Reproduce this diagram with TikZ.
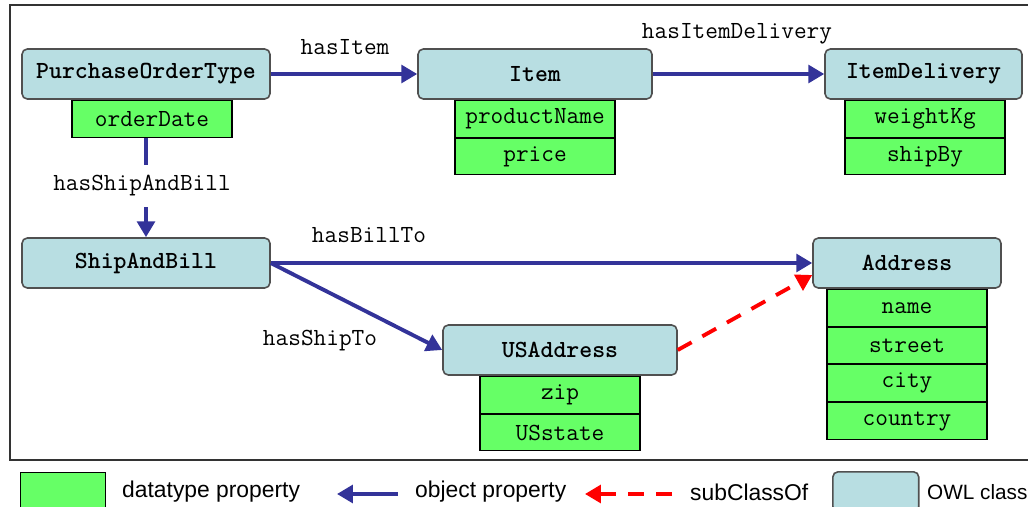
\documentclass[tikz,border=0pt]{standalone}
\usepackage{fontspec}
\setsansfont{Liberation Sans}
\usetikzlibrary{arrows.meta,positioning}
\definecolor{owlblue}{RGB}{184,222,226}
\definecolor{dtgreen}{RGB}{102,255,102}
\definecolor{objblue}{RGB}{51,51,153}
\definecolor{boxgray}{RGB}{80,80,80}
\begin{document}
\begin{tikzpicture}[x=0.02cm,y=-0.02cm,
	every node/.style={font=\fontsize{14}{16}\selectfont\ttfamily},
	owlclass/.style={draw=boxgray,line width=0.9pt,fill=owlblue,rounded corners=3pt,
		minimum height=1cm,inner sep=0pt,font=\fontsize{14}{16}\selectfont\ttfamily\bfseries},
	dtprop/.style={draw=black,line width=0.6pt,fill=dtgreen,minimum width=3.2cm,
		minimum height=0.735cm,inner sep=0pt},
	objprop/.style={draw=objblue,line width=2.2pt,-{Triangle[length=9pt,width=10pt]}},
	subcls/.style={draw=red,line width=2.2pt,dash pattern=on 9pt off 7pt,
		-{Triangle[length=9pt,width=10pt]}},
	legend/.style={font=\fontsize{13}{15}\selectfont\sffamily,anchor=west}]
	\useasboundingbox (0,0) rectangle (1028,507);
	\draw[line width=0.6pt,black!80] (10,5) rectangle (1040,460);
	% classes
	\node[owlclass,minimum width=4.96cm] (pot) at (146,74) {PurchaseOrderType};
	\node[owlclass,minimum width=4.68cm] (item) at (535,74) {Item};
	\node[owlclass,minimum width=3.94cm] (delivery) at (923.5,74) {ItemDelivery};
	\node[owlclass,minimum width=4.96cm] (shipbill) at (146,263) {ShipAndBill};
	\node[owlclass,minimum width=3.76cm] (address) at (907,263) {Address};
	\node[owlclass,minimum width=4.68cm] (usaddr) at (560,350) {USAddress};
	% datatype properties
	\node[dtprop,below=0pt of pot,xshift=0.12cm] (orderdate) {orderDate};
	\node[dtprop,below=0pt of item] (prodname) {productName};
	\node[dtprop,below=0pt of prodname] (price) {price};
	\node[dtprop,below=0pt of delivery,xshift=0.03cm] (weight) {weightKg};
	\node[dtprop,below=0pt of weight] (shipby) {shipBy};
	\node[dtprop,below=0pt of address] (name) {name};
	\node[dtprop,below=0pt of name] (street) {street};
	\node[dtprop,below=0pt of street] (city) {city};
	\node[dtprop,below=0pt of city] (country) {country};
	\node[dtprop,below=0pt of usaddr] (zip) {zip};
	\node[dtprop,below=0pt of zip] (usstate) {USstate};
	% object properties
	\draw[objprop] (pot) -- (item);
	\draw[objprop] (item) -- (delivery);
	\draw[objprop] (orderdate.south -| shipbill.north) -- (shipbill.north);
	\draw[objprop] (shipbill) -- (address);
	\draw[objprop] (shipbill.east) -- (usaddr.west);
	\draw[subcls] (usaddr.east) -- ([yshift=-0.24cm]address.west);
	\node (lbitem) at (345,47) {hasItem};
	\node (lbdelivery) at (737,34) {hasItemDelivery};
	\node[fill=white,inner ysep=6pt] (lbshipbill) at (142,186) {hasShipAndBill};
	\node (lbbill) at (369,235) {hasBillTo};
	\node (lbship) at (320,341) {hasShipTo};
	% legend
	\node[draw=black,line width=0.6pt,fill=dtgreen,minimum width=1.7cm,minimum height=0.8cm,
		anchor=north west,inner sep=0pt] (lgdt) at (20,472) {};
	\node[legend] (lgdttext) at (116,492) {datatype property};
	\coordinate (lgobjA) at (398,494);
	\coordinate (lgobjB) at (337,494);
	\draw[objprop] (lgobjA) -- (lgobjB);
	\node[legend] (lgobjtext) at (409,492) {object property};
	\coordinate (lgsubA) at (672,494);
	\coordinate (lgsubB) at (585,494);
	\draw[subcls] (lgsubA) -- (lgsubB);
	\node[legend] (lgsubtext) at (684,492) {subClassOf};
	\node[owlclass,minimum width=1.72cm,minimum height=0.8cm,anchor=north west] (lgcls) at (832,471) {};
	\node[legend,font=\fontsize{11.8}{14}\selectfont\sffamily] (lgclstext) at (921,492) {OWL class};
\end{tikzpicture}
\end{document}
